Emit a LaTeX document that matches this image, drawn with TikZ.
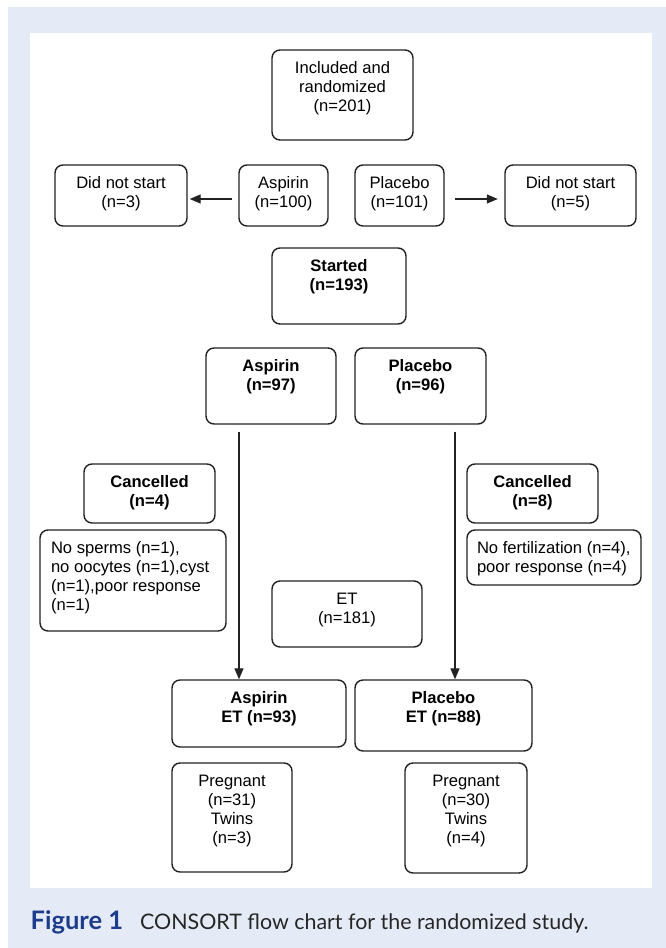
\documentclass[tikz,border=0pt]{standalone}
\usepackage{fontspec}
\setmainfont{Liberation Sans}
\newfontfamily\legenda{Lato}
\usetikzlibrary{arrows.meta}
\definecolor{fundo}{HTML}{E5EBF6}
\definecolor{azul}{HTML}{1E3C8C}
\definecolor{linha}{HTML}{222222}
\newcommand{\caixa}[4][\centering]{\parbox[c][#3pt][t]{#2pt}{#1\rule{0pt}{23.5pt}#4}}

\begin{document}
\begin{tikzpicture}[x=1pt, y=-1pt,
    cx/.style={draw=linha, line width=1.4pt, rounded corners=8pt, inner sep=0pt,
        font=\fontsize{16.6pt}{19pt}\selectfont},
    seta/.style={-{Triangle[length=11pt, width=9pt]}, line width=1.2pt, linha}]
        \useasboundingbox (0, 0) rectangle (666, 948);
        \fill[fundo] (7.5, 7) rectangle (666, 948);
        \fill[white] (30, 33) rectangle (652, 888);

        \draw (342.5, 95) node[cx](c1){\caixa{141}{90}{Included and\\randomized\\(n=201)}}
        (121, 195.5) node[cx](c2){\caixa{132}{61}{Did not start\\(n=3)}}
        (283.5, 195.5) node[cx](c3){\caixa{89}{61}{Aspirin\\(n=100)}}
        (399.5, 195.5) node[cx](c4){\caixa{89}{61}{Placebo\\(n=101)}}
        (570.5, 195.5) node[cx](c5){\caixa{131}{61}{Did not start\\(n=5)}};

        \draw (339, 286) node[cx](c6){\caixa{134}{76}{\bfseries Started\\(n=193)}}
        (271, 386) node[cx](c7){\caixa{130}{76}{\bfseries Aspirin\\(n=97)}}
        (420.5, 386) node[cx](c8){\caixa{131}{76}{\bfseries Placebo\\(n=96)}};

        \draw (149.5, 493.5) node[cx](c9){\caixa{131}{59}{\bfseries Cancelled\\(n=4)}}
        (532.5, 493.5) node[cx](c10){\caixa{131}{59}{\bfseries Cancelled\\(n=8)}}
        (133, 580.5) node[cx](c11){\caixa[\raggedright\leftskip=11pt]{186}{101}{No sperms (n=1),\\no oocytes (n=1),cyst\\(n=1),poor response\\(n=1)}}
        (554, 557.5) node[cx](c12){\caixa[\raggedright\leftskip=10pt]{174}{55}{No fertilization (n=4),\\poor response (n=4)}}
        (347, 614) node[cx](c13){\caixa{150}{66}{ET\\(n=181)}};

        \draw (259, 713.5) node[cx](c14){\caixa{174}{67}{\bfseries Aspirin\\ET (n=93)}}
        (443.5, 715.5) node[cx](c15){\caixa{177}{71}{\bfseries Placebo\\ET (n=88)}}
        (232, 817.5) node[cx](c16){\caixa{120}{109}{Pregnant\\(n=31)\\Twins\\(n=3)}}
        (466, 818) node[cx](c17){\caixa{122}{110}{Pregnant\\(n=30)\\Twins\\(n=4)}};

        % setas
        \draw[seta, shorten <=6pt, shorten >=2pt] ([yshift=-3.5pt]c3.west) -- ([yshift=-3.5pt]c2.east);
        \draw[seta, shorten <=10.5pt, shorten >=6.5pt] ([yshift=-3.5pt]c4.east) -- ([yshift=-3.5pt]c5.west);
        \coordinate (v1) at ([xshift=-32pt]c7.south);
        \coordinate (v2) at ([xshift=34.5pt]c8.south);
        \draw[seta, shorten <=7pt] (v1) -- (v1 |- c14.north);
        \draw[seta, shorten <=7pt] (v2) -- (v2 |- c15.north);

        % legenda
        \node[anchor=base west, inner sep=0pt, font=\legenda\bfseries\fontsize{25.5pt}{28pt}\selectfont, azul] (fig) at (30.5, 929) {Figure 1};
        \node[anchor=base west, inner sep=0pt, font=\legenda\fontsize{21.4pt}{26pt}\selectfont, black!85] (leg) at (140, 929) {CONSORT flow chart for the randomized study.};
    \end{tikzpicture}
\end{document}
